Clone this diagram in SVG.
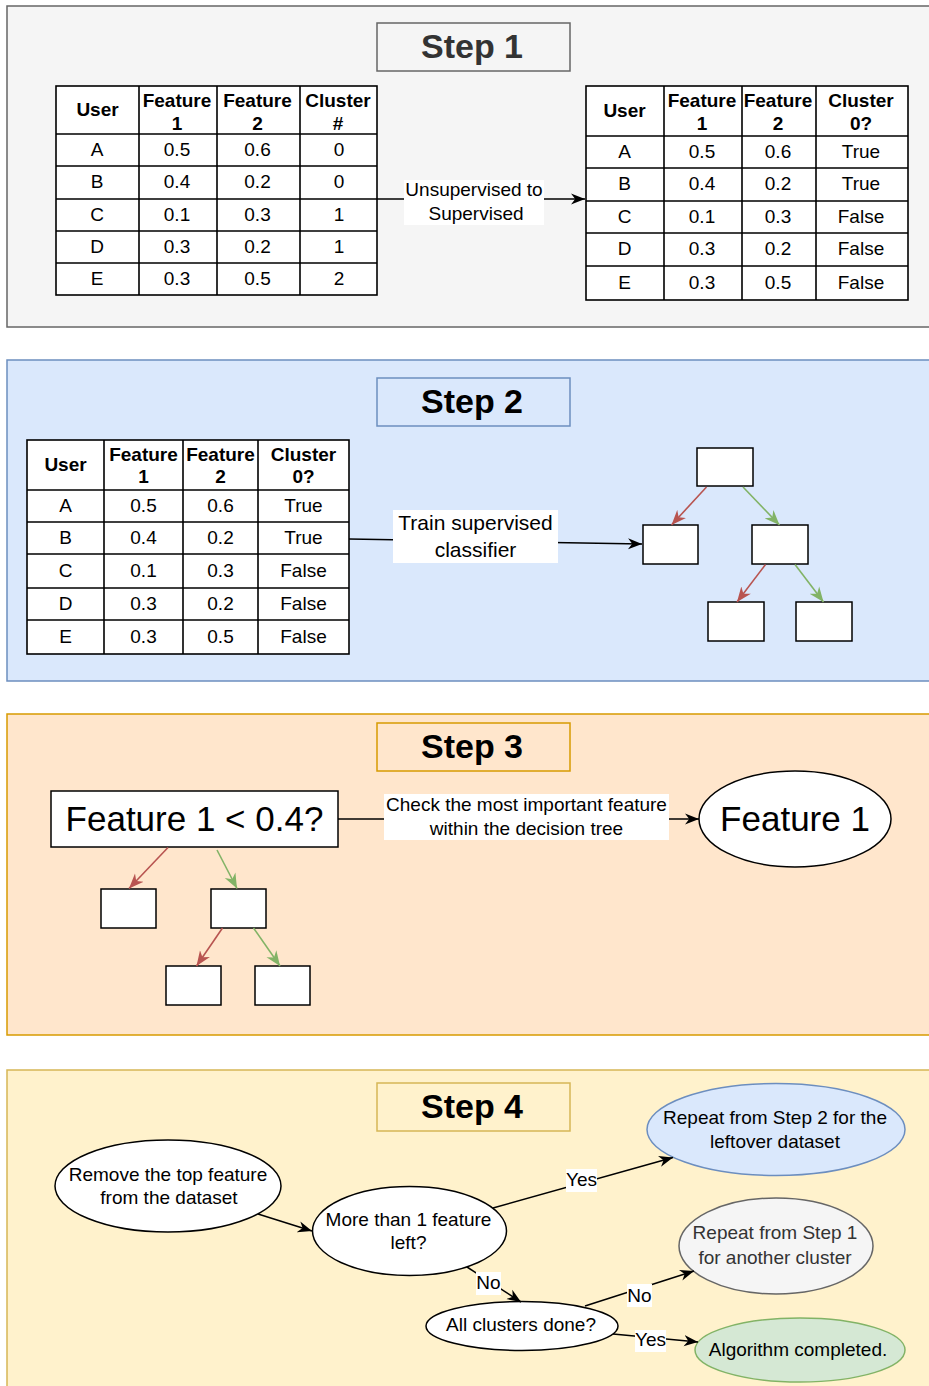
<svg xmlns="http://www.w3.org/2000/svg" width="929" height="1386" viewBox="0 0 929 1386">
<defs>
<style>
text{font-family:"Liberation Sans",Arial,sans-serif;font-size:19px;fill:#000;text-anchor:middle;dominant-baseline:central}
.b{font-weight:bold}
.title{font-size:34px;font-weight:bold}
.big{font-size:35px}
.lbl{font-size:21px}
.tbl{fill:#fff;stroke:#000;stroke-width:1.6}
.grid{stroke:#000;stroke-width:1.6;fill:none}
.box{fill:#fff;stroke:#000;stroke-width:1.5}
.ell{fill:#fff;stroke:#000;stroke-width:1.5}
.edge{fill:none;stroke:#000;stroke-width:1.5}
.red{fill:none;stroke:#b85450;stroke-width:1.6}
.green{fill:none;stroke:#82b366;stroke-width:1.6}
.bg{fill:#fff}
</style>
<marker id="ah" viewBox="0 0 10 8" refX="10" refY="4" markerWidth="14" markerHeight="12" markerUnits="userSpaceOnUse" orient="auto"><path d="M0,0 L10,4 L0,8 L3,4 z" fill="#000"/></marker>
<marker id="ahr" viewBox="0 0 10 8" refX="10" refY="4" markerWidth="15" markerHeight="13" markerUnits="userSpaceOnUse" orient="auto"><path d="M0,0 L10,4 L0,8 L3,4 z" fill="#b85450"/></marker>
<marker id="ahg" viewBox="0 0 10 8" refX="10" refY="4" markerWidth="15" markerHeight="13" markerUnits="userSpaceOnUse" orient="auto"><path d="M0,0 L10,4 L0,8 L3,4 z" fill="#82b366"/></marker>
</defs>
<rect width="929" height="1386" fill="#fff"/>

<!-- Panels -->
<g id="panel1"><rect x="7" y="6" width="940" height="321" fill="#f5f5f5" stroke="#666" stroke-width="1.5"/></g>
<g id="panel2"><rect x="7" y="360" width="940" height="321" fill="#dae8fc" stroke="#6c8ebf" stroke-width="1.5"/></g>
<g id="panel3"><rect x="7" y="714" width="940" height="321" fill="#ffe6cc" stroke="#d79b00" stroke-width="1.5"/></g>
<g id="panel4"><rect x="7" y="1070" width="940" height="330" fill="#fff2cc" stroke="#d6b656" stroke-width="1.5"/></g>

<!-- Titles -->
<g id="title1"><rect x="377" y="23" width="193" height="48" fill="#f5f5f5" stroke="#666" stroke-width="1.5"/><text class="title" x="472" y="45.5" style="fill:#333">Step 1</text></g>
<g id="title2"><rect x="377" y="378" width="193" height="48" fill="#dae8fc" stroke="#6c8ebf" stroke-width="1.5"/><text class="title" x="472" y="400.5">Step 2</text></g>
<g id="title3"><rect x="377" y="723" width="193" height="48" fill="#ffe6cc" stroke="#d79b00" stroke-width="1.5"/><text class="title" x="472" y="745.5">Step 3</text></g>
<g id="title4"><rect x="377" y="1083" width="193" height="48" fill="#fff2cc" stroke="#d6b656" stroke-width="1.5"/><text class="title" x="472" y="1105.5">Step 4</text></g>

<!-- Table 1 -->
<g id="table1">
<rect class="tbl" x="56" y="86" width="321" height="209"/>
<path class="grid" d="M139,86V295M217,86V295M300,86V295M56,134H377M56,166H377M56,199H377M56,231H377M56,263H377"/>
<text class="b" x="97.5" y="109">User</text>
<text class="b" x="177" y="100">Feature</text><text class="b" x="177" y="123">1</text>
<text class="b" x="257.5" y="100">Feature</text><text class="b" x="257.5" y="123">2</text>
<text class="b" x="338" y="100">Cluster</text><text class="b" x="338" y="123">#</text>
<text x="97" y="149">A</text><text x="177" y="149">0.5</text><text x="257.5" y="149">0.6</text><text x="339" y="149">0</text>
<text x="97" y="181">B</text><text x="177" y="181">0.4</text><text x="257.5" y="181">0.2</text><text x="339" y="181">0</text>
<text x="97" y="214">C</text><text x="177" y="214">0.1</text><text x="257.5" y="214">0.3</text><text x="339" y="214">1</text>
<text x="97" y="246">D</text><text x="177" y="246">0.3</text><text x="257.5" y="246">0.2</text><text x="339" y="246">1</text>
<text x="97" y="278">E</text><text x="177" y="278">0.3</text><text x="257.5" y="278">0.5</text><text x="339" y="278">2</text>
</g>

<!-- Table 2 -->
<g id="table2">
<rect class="tbl" x="586" y="86" width="322" height="214"/>
<path class="grid" d="M664,86V300M742,86V300M816,86V300M586,136H908M586,168H908M586,201H908M586,233H908M586,266H908"/>
<text class="b" x="624.5" y="110">User</text>
<text class="b" x="702" y="100">Feature</text><text class="b" x="702" y="123">1</text>
<text class="b" x="778" y="100">Feature</text><text class="b" x="778" y="123">2</text>
<text class="b" x="861" y="100">Cluster</text><text class="b" x="861" y="123">0?</text>
<text x="624.5" y="151">A</text><text x="702" y="151">0.5</text><text x="778" y="151">0.6</text><text x="861" y="151">True</text>
<text x="624.5" y="183">B</text><text x="702" y="183">0.4</text><text x="778" y="183">0.2</text><text x="861" y="183">True</text>
<text x="624.5" y="216">C</text><text x="702" y="216">0.1</text><text x="778" y="216">0.3</text><text x="861" y="216">False</text>
<text x="624.5" y="248">D</text><text x="702" y="248">0.3</text><text x="778" y="248">0.2</text><text x="861" y="248">False</text>
<text x="624.5" y="282">E</text><text x="702" y="282">0.3</text><text x="778" y="282">0.5</text><text x="861" y="282">False</text>
</g>

<!-- Table 3 (Step 2) -->
<g id="table3">
<rect class="tbl" x="27" y="440" width="322" height="214"/>
<path class="grid" d="M104,440V654M183,440V654M258,440V654M27,490H349M27,522H349M27,554H349M27,588H349M27,620H349"/>
<text class="b" x="65.5" y="464">User</text>
<text class="b" x="143.5" y="454">Feature</text><text class="b" x="143.5" y="476">1</text>
<text class="b" x="220.5" y="454">Feature</text><text class="b" x="220.5" y="476">2</text>
<text class="b" x="303.5" y="454">Cluster</text><text class="b" x="303.5" y="476">0?</text>
<text x="65.5" y="505">A</text><text x="143.5" y="505">0.5</text><text x="220.5" y="505">0.6</text><text x="303.5" y="505">True</text>
<text x="65.5" y="537">B</text><text x="143.5" y="537">0.4</text><text x="220.5" y="537">0.2</text><text x="303.5" y="537">True</text>
<text x="65.5" y="570">C</text><text x="143.5" y="570">0.1</text><text x="220.5" y="570">0.3</text><text x="303.5" y="570">False</text>
<text x="65.5" y="603">D</text><text x="143.5" y="603">0.3</text><text x="220.5" y="603">0.2</text><text x="303.5" y="603">False</text>
<text x="65.5" y="636">E</text><text x="143.5" y="636">0.3</text><text x="220.5" y="636">0.5</text><text x="303.5" y="636">False</text>
</g>

<!-- Step 2 tree -->
<g id="s2root"><rect class="box" x="697" y="448" width="56" height="38"/></g>
<g id="s2left"><rect class="box" x="643" y="525" width="55" height="39"/></g>
<g id="s2right"><rect class="box" x="752" y="525" width="56" height="39"/></g>
<g id="s2bl"><rect class="box" x="708" y="602" width="56" height="39"/></g>
<g id="s2br"><rect class="box" x="796" y="602" width="56" height="39"/></g>

<!-- Step 3 nodes -->
<g id="s3cond"><rect class="box" x="51" y="791" width="287" height="56"/><text class="big" x="194.5" y="818">Feature 1 &lt; 0.4?</text></g>
<g id="s3feat"><ellipse class="ell" cx="795" cy="819" rx="96" ry="48"/><text class="big" x="795" y="818">Feature 1</text></g>
<g id="s3a"><rect class="box" x="101" y="889" width="55" height="39"/></g>
<g id="s3b"><rect class="box" x="211" y="889" width="55" height="39"/></g>
<g id="s3c"><rect class="box" x="166" y="966" width="55" height="39"/></g>
<g id="s3d"><rect class="box" x="255" y="966" width="55" height="39"/></g>

<!-- Step 4 nodes -->
<g id="remove"><ellipse class="ell" cx="168" cy="1186" rx="113" ry="46"/><text x="168" y="1174">Remove the top feature</text><text x="169" y="1197">from the dataset</text></g>
<g id="more"><ellipse class="ell" cx="409.5" cy="1231" rx="97" ry="44.5"/><text x="408.5" y="1219">More than 1 feature</text><text x="408.5" y="1242">left?</text></g>
<g id="alldone"><ellipse class="ell" cx="522" cy="1326" rx="96" ry="24.5"/><text x="521" y="1324">All clusters done?</text></g>
<g id="repeat2"><ellipse cx="776" cy="1129.5" rx="129" ry="46" fill="#dae8fc" stroke="#6c8ebf" stroke-width="1.5"/><text x="775" y="1117">Repeat from Step 2 for the</text><text x="775" y="1141">leftover dataset</text></g>
<g id="repeat1"><ellipse cx="776" cy="1246" rx="97" ry="48" fill="#f5f5f5" stroke="#666" stroke-width="1.5"/><text x="775" y="1232" style="fill:#333">Repeat from Step 1</text><text x="775" y="1257" style="fill:#333">for another cluster</text></g>
<g id="done"><ellipse cx="800" cy="1350" rx="105" ry="32" fill="#d5e8d4" stroke="#82b366" stroke-width="1.5"/><text x="798" y="1349">Algorithm completed.</text></g>

<!-- Connectors -->
<g id="connectors">
<path class="edge" d="M377,199H585" marker-end="url(#ah)"/>
<rect class="bg" x="404" y="180" width="140" height="45"/>
<text x="474" y="189">Unsupervised to</text><text x="476" y="213">Supervised</text>

<path class="edge" d="M349,539L642,544" marker-end="url(#ah)"/>
<rect class="bg" x="393" y="510" width="165" height="53"/>
<text class="lbl" x="475.5" y="522">Train supervised</text><text class="lbl" x="475.5" y="549">classifier</text>

<path class="red" d="M706.5,487L671.5,525" marker-end="url(#ahr)"/>
<path class="green" d="M743,487L779.5,525" marker-end="url(#ahg)"/>
<path class="red" d="M765.5,564.5L737,602" marker-end="url(#ahr)"/>
<path class="green" d="M795,564.5L823.5,602" marker-end="url(#ahg)"/>

<path class="red" d="M168,847.5L129,888.5" marker-end="url(#ahr)"/>
<path class="green" d="M217,850L237,888.5" marker-end="url(#ahg)"/>
<path class="red" d="M222.5,928L196.5,966" marker-end="url(#ahr)"/>
<path class="green" d="M253.5,928L280,966" marker-end="url(#ahg)"/>

<path class="edge" d="M338,819H699" marker-end="url(#ah)"/>
<rect class="bg" x="384" y="794" width="285" height="46"/>
<text x="526.5" y="804">Check the most important feature</text><text x="526.5" y="828">within the decision tree</text>

<path class="edge" d="M258,1214L312,1231" marker-end="url(#ah)"/>
<path class="edge" d="M493,1208L673,1157.5" marker-end="url(#ah)"/>
<rect class="bg" x="566" y="1169" width="31" height="23"/><text x="581.5" y="1179">Yes</text>
<path class="edge" d="M467,1267L521,1302" marker-end="url(#ah)"/>
<rect class="bg" x="476" y="1272" width="25" height="23"/><text x="488.5" y="1282">No</text>
<path class="edge" d="M585,1306L694,1271" marker-end="url(#ah)"/>
<rect class="bg" x="627" y="1284" width="25" height="23"/><text x="639.5" y="1295">No</text>
<path class="edge" d="M613,1334L698,1342" marker-end="url(#ah)"/>
<rect class="bg" x="635" y="1330" width="31" height="22"/><text x="650.5" y="1339">Yes</text>
</g>
</svg>
